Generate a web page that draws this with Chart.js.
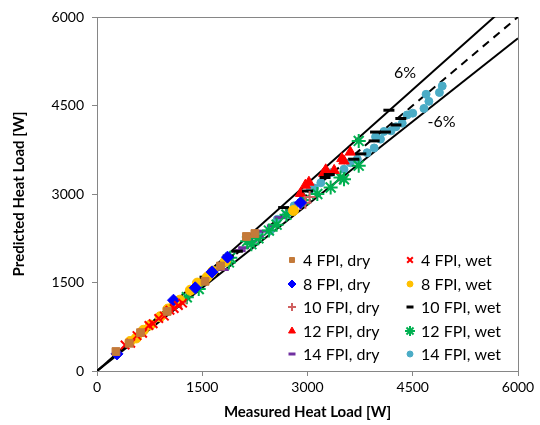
<!DOCTYPE html>
<html>
<head>
<meta charset="utf-8">
<script src="https://cdn.jsdelivr.net/npm/chart.js@4/dist/chart.umd.min.js"></script>
<style>
  html, body { margin: 0; padding: 0; background: #fff; }
  #wrap { width: 540px; height: 425px; }
</style>
</head>
<body>
<div id="wrap"><canvas id="grafico" width="540" height="425"></canvas></div>
<script>
// axis ticks
const ticksXY = [0, 1500, 3000, 4500, 6000];

// reference lines (measured -> predicted)
const lineX = [0, 6000];
const unityY = [0, 6000];
const plus6Y = [0, 6360];
const minus6Y = [0, 5640];

// 4 FPI
const fpi4DryX = [270, 460, 620, 1000, 1540, 1760, 2130, 2250];
const fpi4DryY = [330, 470, 650, 1010, 1520, 1780, 2280, 2330];
const fpi4WetX = [400, 480, 570, 650, 740, 800, 880, 960, 1040, 1100, 1160, 1220];
const fpi4WetY = [440, 470, 600, 640, 770, 800, 890, 930, 1030, 1060, 1110, 1150];

// 8 FPI
const fpi8DryX = [285, 1090, 1400, 1640, 1860, 2900];
const fpi8DryY = [290, 1200, 1410, 1680, 1930, 2850];
const fpi8WetX = [470, 560, 660, 760, 900, 1010, 1100, 1140, 1180, 1330, 1430, 1570, 1650, 1830, 2800];
const fpi8WetY = [500, 560, 690, 780, 920, 1050, 1140, 1180, 1200, 1370, 1490, 1590, 1690, 1860, 2720];

// 10 FPI
const fpi10DryX = [1200, 2900, 2970, 3030];
const fpi10DryY = [1160, 2830, 2850, 2950];
const fpi10WetX = [1540, 1660, 1870, 2000, 2660, 3000, 3250, 3310, 3660, 3760, 3950, 3970, 4110, 4160, 4260, 4330];
const fpi10WetY = [1590, 1640, 1950, 2030, 2770, 3050, 3280, 3330, 3590, 3680, 3900, 4050, 4050, 4420, 4170, 4280];

// 12 FPI
const fpi12DryX = [2900, 2970, 3020, 3230, 3260, 3380, 3490, 3520, 3610];
const fpi12DryY = [3010, 3150, 3200, 3350, 3410, 3400, 3600, 3560, 3710];
const fpi12WetX = [1280, 1450, 1880, 1900, 2140, 2200, 2300, 2450, 2560, 2700, 2950, 3140, 3330, 3470, 3520, 3730, 3730];
const fpi12WetY = [1250, 1390, 1840, 1920, 2200, 2150, 2250, 2380, 2480, 2650, 2900, 3000, 3110, 3280, 3250, 3480, 3900];

// 14 FPI
const fpi14DryX = [1800, 2040, 2090, 2200, 2300, 2380, 2500, 2610, 2760];
const fpi14DryY = [1720, 2040, 2090, 2200, 2280, 2370, 2460, 2600, 2740];
const fpi14WetX = [2300, 2470, 2570, 2700, 2810, 3040, 3100, 3190, 3330, 3520, 3610, 3710, 3850, 3950, 3970, 4040, 4090, 4190, 4260, 4350, 4420, 4500, 4660, 4690, 4730, 4880, 4920];
const fpi14WetY = [2300, 2380, 2570, 2650, 2800, 3080, 3100, 3190, 3360, 3420, 3530, 3590, 3700, 3780, 3970, 3930, 4060, 4070, 4140, 4200, 4340, 4370, 4450, 4690, 4570, 4720, 4830];

const FONTE = "Lato, 'Liberation Sans', sans-serif";

function pontos(xs, ys) {
    return xs.map((x, i) => ({ x: x, y: ys[i] }));
}

function serie(label, xs, ys, estilo, cor, raio, linha, preenche, legRaio) {
    return {
        type: 'scatter',
        label: label,
        data: pontos(xs, ys),
        pointStyle: estilo,
        pointRadius: raio,
        pointHoverRadius: raio,
        pointBorderWidth: linha,
        pointBackgroundColor: preenche ? cor : 'transparent',
        pointBorderColor: cor,
        backgroundColor: cor,
        borderColor: cor,
        legRaio: legRaio
    };
}

function reta(xs, ys, tracejado) {
    return {
        type: 'line',
        data: pontos(xs, ys),
        borderColor: '#000',
        borderWidth: 2,
        borderDash: tracejado ? [8, 6] : [],
        pointRadius: 0,
        fill: false,
        tension: 0,
        isRef: true
    };
}

const datasets = [
    serie('4 FPI, dry', fpi4DryX, fpi4DryY, 'rect', '#c47a3a', 5.5, 1, true, 3.5),
    serie('4 FPI, wet', fpi4WetX, fpi4WetY, 'crossRot', '#ff0000', 6, 2, false, 4),
    serie('8 FPI, dry', fpi8DryX, fpi8DryY, 'rectRot', '#0000ff', 6, 1, true, 4),
    serie('8 FPI, wet', fpi8WetX, fpi8WetY, 'circle', '#ffc000', 5, 1, true, 3),
    serie('10 FPI, dry', fpi10DryX, fpi10DryY, 'cross', '#d06060', 6, 2, false, 4),
    serie('10 FPI, wet', fpi10WetX, fpi10WetY, 'line', '#000000', 5.5, 3, false, 3.5),
    serie('12 FPI, dry', fpi12DryX, fpi12DryY, 'triangle', '#ff0000', 6, 1, true, 4),
    serie('12 FPI, wet', fpi12WetX, fpi12WetY, 'star', '#00b050', 7, 2, false, 5),
    serie('14 FPI, dry', fpi14DryX, fpi14DryY, 'line', '#7030a0', 5.5, 3, false, 3.5),
    serie('14 FPI, wet', fpi14WetX, fpi14WetY, 'circle', '#4bacc6', 4, 1, true, 3),
    reta(lineX, plus6Y, false),
    reta(lineX, minus6Y, false),
    reta(lineX, unityY, true)
];

// caixa em volta da area do grafico
const caixa = {
    id: 'caixa',
    beforeDatasetsDraw(chart) {
        const a = chart.chartArea;
        const ctx = chart.ctx;
        ctx.save();
        ctx.strokeStyle = '#868686';
        ctx.lineWidth = 1;
        ctx.strokeRect(a.left + 0.5, a.top + 0.5, a.right - a.left, a.bottom - a.top);
        ctx.restore();
    }
};

// rotulos 6% e -6%, e legenda dentro do grafico
const extras = {
    id: 'extras',
    afterDraw(chart) {
        const ctx = chart.ctx;
        const sx = chart.scales.x, sy = chart.scales.y;
        ctx.save();
        ctx.fillStyle = '#000';
        ctx.font = "16px " + FONTE;
        ctx.textAlign = 'center';
        ctx.textBaseline = 'middle';
        ctx.fillText('6%', sx.getPixelForValue(4390), sy.getPixelForValue(5050));
        ctx.fillText('-6%', sx.getPixelForValue(4910), sy.getPixelForValue(4220));

        const colX = [292, 410];
        const linhaY = [260, 284, 307, 331, 354];
        const series = chart.data.datasets.filter(d => !d.isRef);
        ctx.textAlign = 'left';
        series.forEach((d, i) => {
            const px = colX[i % 2];
            const py = linhaY[Math.floor(i / 2)];
            ctx.fillStyle = d.pointBackgroundColor === 'transparent' ? d.borderColor : d.pointBackgroundColor;
            ctx.strokeStyle = d.pointBorderColor;
            ctx.lineWidth = d.pointBorderWidth;
            const opt = { pointStyle: d.pointStyle, radius: d.legRaio, rotation: 0, borderWidth: d.pointBorderWidth };
            if (Chart.helpers && Chart.helpers.drawPoint) {
                Chart.helpers.drawPoint(ctx, opt, px, py);
            } else {
                ctx.fillRect(px - 3, py - 3, 6, 6);
            }
            ctx.fillStyle = '#000';
            ctx.fillText(d.label, px + 11, py + 1);
        });
        ctx.restore();
    }
};

const eixoCor = '#868686';
const rotulo = v => String(v);

new Chart(document.getElementById('grafico'), {
    data: { datasets: datasets },
    options: {
        responsive: false,
        animation: false,
        layout: { padding: { left: 6, right: 22, top: 17, bottom: 0 } },
        plugins: { legend: { display: false }, tooltip: { enabled: false } },
        scales: {
            x: {
                type: 'linear',
                min: 0, max: 6000,
                afterBuildTicks: s => { s.ticks = ticksXY.map(v => ({ value: v })); },
                afterFit: s => { s.height = 54; },
                grid: { drawOnChartArea: false, drawTicks: true, tickLength: 5, color: eixoCor },
                border: { color: eixoCor, width: 1 },
                ticks: { color: '#000', font: { family: FONTE, size: 14 }, padding: 3, maxRotation: 0, callback: rotulo },
                title: { display: true, text: 'Measured Heat Load [W]', color: '#000', font: { family: FONTE, size: 15, weight: 'bold' }, padding: { top: 2 } }
            },
            y: {
                type: 'linear',
                min: 0, max: 6000,
                afterBuildTicks: s => { s.ticks = ticksXY.map(v => ({ value: v })); },
                afterFit: s => { s.width = 91; },
                grid: { drawOnChartArea: false, drawTicks: true, tickLength: 5, color: eixoCor },
                border: { color: eixoCor, width: 1 },
                ticks: { color: '#000', font: { family: FONTE, size: 14 }, padding: 8, callback: rotulo },
                title: { display: true, text: 'Predicted Heat Load [W]', color: '#000', font: { family: FONTE, size: 15, weight: 'bold' }, padding: { bottom: 4 } }
            }
        }
    },
    plugins: [caixa, extras]
});
</script>
</body>
</html>
